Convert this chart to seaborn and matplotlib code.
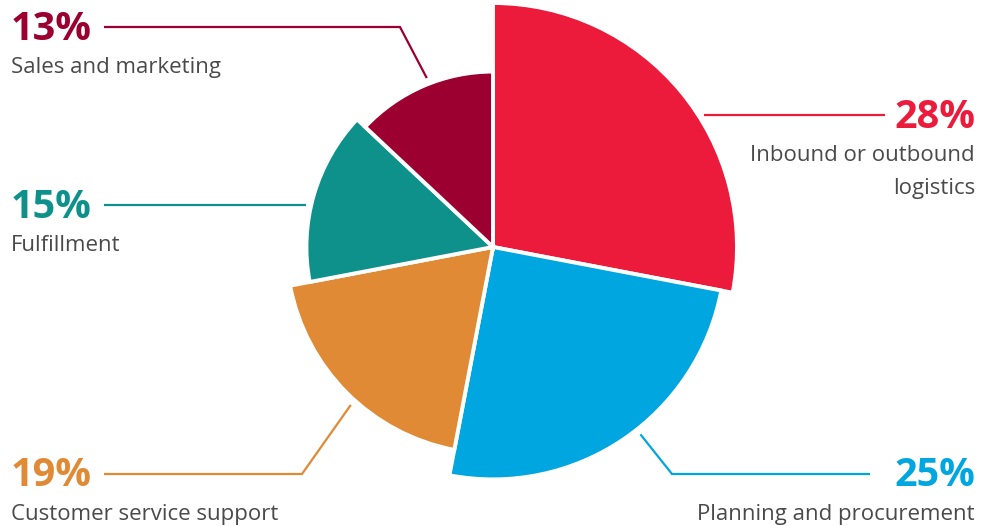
import numpy as np
import matplotlib
matplotlib.use("Agg")
import matplotlib.pyplot as plt
from matplotlib.patches import Wedge
import seaborn as sns

# Share of time spent by business function (clockwise from 12 o'clock)
categories = ["Inbound or outbound\nlogistics", "Planning and procurement",
              "Customer service support", "Fulfillment", "Sales and marketing"]
shares = [28, 25, 19, 15, 13]
pct_labels = ["28%", "25%", "19%", "15%", "13%"]

sns.set_theme(style="white")
plt.rcParams["font.family"] = ["Open Sans", "DejaVu Sans"]

palette = sns.color_palette(["#ED1B3B", "#00A6DF", "#E08A36", "#0E918A", "#9B0030"])
TEXT_GREY = "#4a4a4a"

W, H = 995, 526
fig = plt.figure(figsize=(W / 100, H / 100), dpi=100)
ax = fig.add_axes([0, 0, 1, 1])
ax.set_xlim(0, W)
ax.set_ylim(H, 0)          # pixel-style coordinates, y grows downward
ax.set_aspect("equal")
ax.axis("off")

cx, cy = 493, 247          # pie centre
R_MAX = 244                # radius of the largest slice
radii = [R_MAX * (v / max(shares)) ** 0.43 for v in shares]


def point(angle_deg, r):
    """Compass angle (clockwise from top) -> axes coordinates."""
    a = np.radians(angle_deg)
    return cx + r * np.sin(a), cy - r * np.cos(a)


total = sum(shares)
starts = np.cumsum([0] + shares[:-1]) / total * 360
spans = np.array(shares) / total * 360

for s, sp, r, col in zip(starts, spans, radii, palette):
    # With the y axis inverted, matplotlib's counter-clockwise angles run
    # clockwise on screen; compass angle c maps to theta = c - 90.
    w = Wedge((cx, cy), r, s - 90, s + sp - 90, facecolor=col,
              edgecolor="white", linewidth=2.8)
    ax.add_patch(w)

# Label layout: (side, label y, elbow x or None, leader end x)
layout = [
    ("right", 115, None, 885),
    ("right", 474, 672, 870),
    ("left", 474, 302, 104),
    ("left", 205, None, 104),
    ("left", 27, 400, 104),
]

for i, (side, ly, ex, lx) in enumerate(layout):
    col = palette[i]
    r = radii[i]
    if ex is None:
        # horizontal leader touching the slice rim at the label height
        rr = r + 5
        dx = np.sqrt(rr ** 2 - (ly - cy) ** 2)
        sx = cx + dx if side == "right" else cx - dx
        xs, ys = [sx, lx], [ly, ly]
    else:
        mid = starts[i] + spans[i] / 2 + (-4 if side == "right" else (-3 if ly > cy else 2))
        sx, sy = point(mid, r + 6)
        xs, ys = [sx, ex, lx], [sy, ly, ly]
    ax.plot(xs, ys, color=col, lw=1.6, solid_capstyle="butt",
            solid_joinstyle="miter")

    if side == "right":
        tx, ha = 975, "right"
    else:
        tx, ha = 11, "left"
    ax.text(tx, ly + 2, pct_labels[i], color=col, fontsize=28.5,
            fontweight="bold", ha=ha, va="center")
    ax.text(tx, ly + 30, categories[i], color=TEXT_GREY, fontsize=16,
            ha=ha, va="top", linespacing=1.75)

fig.savefig("out.png", dpi=100, facecolor="white")
